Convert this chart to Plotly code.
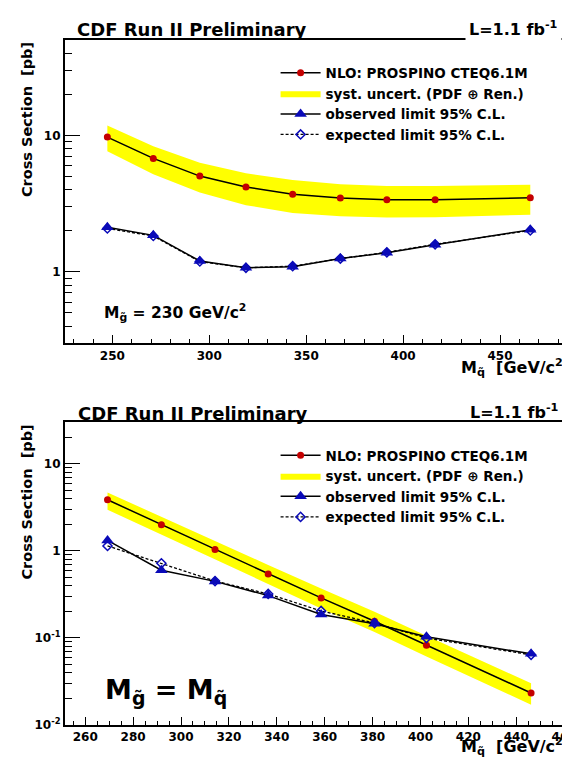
import plotly.graph_objects as go

# ---------------- data ----------------
# top panel: M_gluino = 230 GeV/c^2, x = squark mass
msq_top = [247.4, 271.1, 295.1, 318.9, 343.0, 367.6, 391.6, 416.5, 465.6]
nlo_top = [9.72, 6.78, 5.03, 4.19, 3.71, 3.47, 3.37, 3.37, 3.49]
band_hi_top = [11.8, 8.32, 6.29, 5.27, 4.71, 4.38, 4.26, 4.26, 4.34]
band_lo_top = [7.65, 5.19, 3.81, 3.08, 2.70, 2.55, 2.50, 2.51, 2.62]
obs_top = [2.12, 1.85, 1.20, 1.07, 1.09, 1.25, 1.38, 1.58, 2.03]
exp_top = [2.08, 1.83, 1.19, 1.07, 1.10, 1.25, 1.39, 1.59, 2.01]

# bottom panel: M_gluino = M_squark
m_bot = [269.3, 291.8, 314.2, 336.4, 358.5, 380.8, 402.5, 446.2]
nlo_bot = [3.87, 2.0, 1.04, 0.544, 0.288, 0.155, 0.082, 0.0232]
band_hi_bot = [4.69, 2.45, 1.29, 0.69, 0.37, 0.20, 0.106, 0.030]
band_lo_bot = [2.97, 1.53, 0.80, 0.415, 0.218, 0.117, 0.061, 0.017]
obs_bot = [1.32, 0.60, 0.446, 0.306, 0.186, 0.145, 0.103, 0.0655]
exp_bot = [1.14, 0.72, 0.45, 0.32, 0.204, 0.148, 0.0995, 0.0638]

# tick labels
ytick_top_vals = [1, 10]
ytick_top_text = ["<b>1</b>", "<b>10</b>"]
ytick_bot_vals = [0.01, 0.1, 1, 10]
ytick_bot_text = ["<b>10<sup>-2</sup></b>", "<b>10<sup>-1</sup></b>", "<b>1</b>", "<b>10</b>"]

legend_names = ["NLO: PROSPINO CTEQ6.1M", "syst. uncert. (PDF \u2295 Ren.)",
                "observed limit 95% C.L.", "expected limit 95% C.L."]

# ---------------- style ----------------
W, H = 570, 757
FONT = "DejaVu Sans"
RED = "#c40000"
BLUE = "#0a0ab8"
YEL = "#ffff00"

def py(v):
    return 1 - v / H

def px(v):
    return v / W

fig = go.Figure()

def add_panel(x, nlo, hi, lo, obs, exp, xa, ya, leg):
    fig.add_trace(go.Scatter(x=x, y=lo, mode="lines", line=dict(width=0, color=YEL),
                             showlegend=False, hoverinfo="skip", xaxis=xa, yaxis=ya))
    fig.add_trace(go.Scatter(x=x, y=hi, mode="lines", line=dict(width=0, color=YEL),
                             fill="tonexty", fillcolor=YEL, name=legend_names[1],
                             legend=leg, legendrank=2, xaxis=xa, yaxis=ya))
    fig.add_trace(go.Scatter(x=x, y=nlo, mode="lines+markers", name=legend_names[0],
                             line=dict(color="black", width=1.5),
                             marker=dict(symbol="circle", size=7, color=RED),
                             legend=leg, legendrank=1, xaxis=xa, yaxis=ya))
    fig.add_trace(go.Scatter(x=x, y=exp, mode="lines+markers", name=legend_names[3],
                             line=dict(color="black", width=1.3, dash="3px,2px"),
                             marker=dict(symbol="diamond-open", size=7, color=BLUE,
                                         line=dict(width=1.5, color=BLUE)),
                             legend=leg, legendrank=4, xaxis=xa, yaxis=ya))
    fig.add_trace(go.Scatter(x=x, y=obs, mode="lines+markers", name=legend_names[2],
                             line=dict(color="black", width=1.5),
                             marker=dict(symbol="triangle-up", size=11, color=BLUE),
                             legend=leg, legendrank=3, xaxis=xa, yaxis=ya))

add_panel(msq_top, nlo_top, band_hi_top, band_lo_top, obs_top, exp_top, "x", "y", "legend")
add_panel(m_bot, nlo_bot, band_hi_bot, band_lo_bot, obs_bot, exp_bot, "x2", "y2", "legend2")

tickfont = dict(family=FONT, size=12, color="black")
xdom = [px(57.2), px(568.7)]

def minor_log(lo_exp, hi_exp, vmin, vmax):
    vals = []
    for e in range(lo_exp, hi_exp + 1):
        for d in range(2, 10):
            v = d * 10.0 ** e
            if vmin <= v <= vmax:
                vals.append(v)
    return vals

common_x = dict(showline=True, mirror=True, linecolor="black", linewidth=2,
                ticks="inside", ticklen=8, tickwidth=1, tickcolor="black",
                showgrid=False, zeroline=False, tickfont=tickfont,
                ticklabeloverflow="allow", domain=xdom)
common_y = dict(type="log", showline=True, mirror=True, linecolor="black", linewidth=2,
                ticks="inside", ticklen=15, tickwidth=1, tickcolor="black",
                showgrid=False, zeroline=False, tickfont=tickfont,
                tickmode="array")

legend_common = dict(xanchor="left", yanchor="top", bgcolor="rgba(0,0,0,0)",
                     borderwidth=0, itemwidth=40, traceorder="normal",
                     font=dict(family=FONT, size=13.5, color="black", weight="bold"),
                     tracegroupgap=0)

fig.update_layout(
    width=W, height=H,
    margin=dict(l=0, r=0, t=0, b=0),
    paper_bgcolor="white", plot_bgcolor="white",
    showlegend=True,
    xaxis=dict(common_x, range=[225.5, 488], anchor="y", tickmode="linear", tick0=250, dtick=50,
               tickprefix="<b>", ticksuffix="</b>",
               minor=dict(ticks="inside", ticklen=4, dtick=10, tick0=250, tickcolor="black", showgrid=False)),
    yaxis=dict(common_y, domain=[py(338.3), py(32.3)], anchor="x",
               range=[-0.5229, 1.699],
               tickvals=ytick_top_vals, ticktext=ytick_top_text,
               minor=dict(ticks="inside", ticklen=7, tickcolor="black", showgrid=False,
                          tickmode="array", tickvals=minor_log(-1, 1, 0.3, 50))),
    xaxis2=dict(common_x, range=[251.5, 464], anchor="y2", tickmode="linear", tick0=260, dtick=20,
                tickprefix="<b>", ticksuffix="</b>",
                minor=dict(ticks="inside", ticklen=4, dtick=5, tick0=260, tickcolor="black", showgrid=False)),
    yaxis2=dict(common_y, domain=[py(723.5), py(418.3)], anchor="x2",
                range=[-2, 1.4771],
                tickvals=ytick_bot_vals, ticktext=ytick_bot_text,
                minor=dict(ticks="inside", ticklen=7, tickcolor="black", showgrid=False,
                           tickmode="array", tickvals=minor_log(-2, 1, 0.01, 30))),
    legend=dict(legend_common, x=px(269), y=py(50)),
    legend2=dict(legend_common, x=px(269), y=py(436)),
)

def ann(text, x, y, size, xanchor="left", yanchor="middle", angle=0, bg=None, pad=1):
    d = dict(text=text, x=x, y=y, xref="paper", yref="paper", showarrow=False,
             xanchor=xanchor, yanchor=yanchor, textangle=angle,
             font=dict(family=FONT, size=size, color="black"), borderpad=pad)
    if bg:
        d["bgcolor"] = bg
    fig.add_annotation(**d)

# titles
ann("<b>CDF Run II Preliminary</b>", px(67), py(22), 18)
ann("<b>CDF Run II Preliminary</b>", px(68), py(409), 18)
ann("<b>L=1.1 fb<sup>-1</sup></b>", px(557), py(21), 16, xanchor="right", bg="white", pad=3)
ann("<b>L=1.1 fb<sup>-1</sup></b>", px(556), py(407), 16, xanchor="right")

# y titles
ann("<b>Cross Section  [pb]</b>", px(19), py(32), 14.5, xanchor="center", yanchor="top", angle=-90)
ann("<b>Cross Section  [pb]</b>", px(19), py(418), 14.5, xanchor="center", yanchor="top", angle=-90)

# x titles
ann("<b>M<sub>q\u0303</sub>  [GeV/c<sup>2</sup>]</b>", px(567), py(363), 16, xanchor="right")
ann("<b>M<sub>q\u0303</sub>  [GeV/c<sup>2</sup>]</b>", px(567), py(745), 16, xanchor="right")

# panel labels
ann("<b>M<sub>g\u0303</sub> = 230 GeV/c<sup>2</sup></b>", px(94), py(307), 15.5)
ann("<b>M<sub>g\u0303</sub> = M<sub>q\u0303</sub></b>", px(95), py(690), 27)

fig.write_html("out.html")
